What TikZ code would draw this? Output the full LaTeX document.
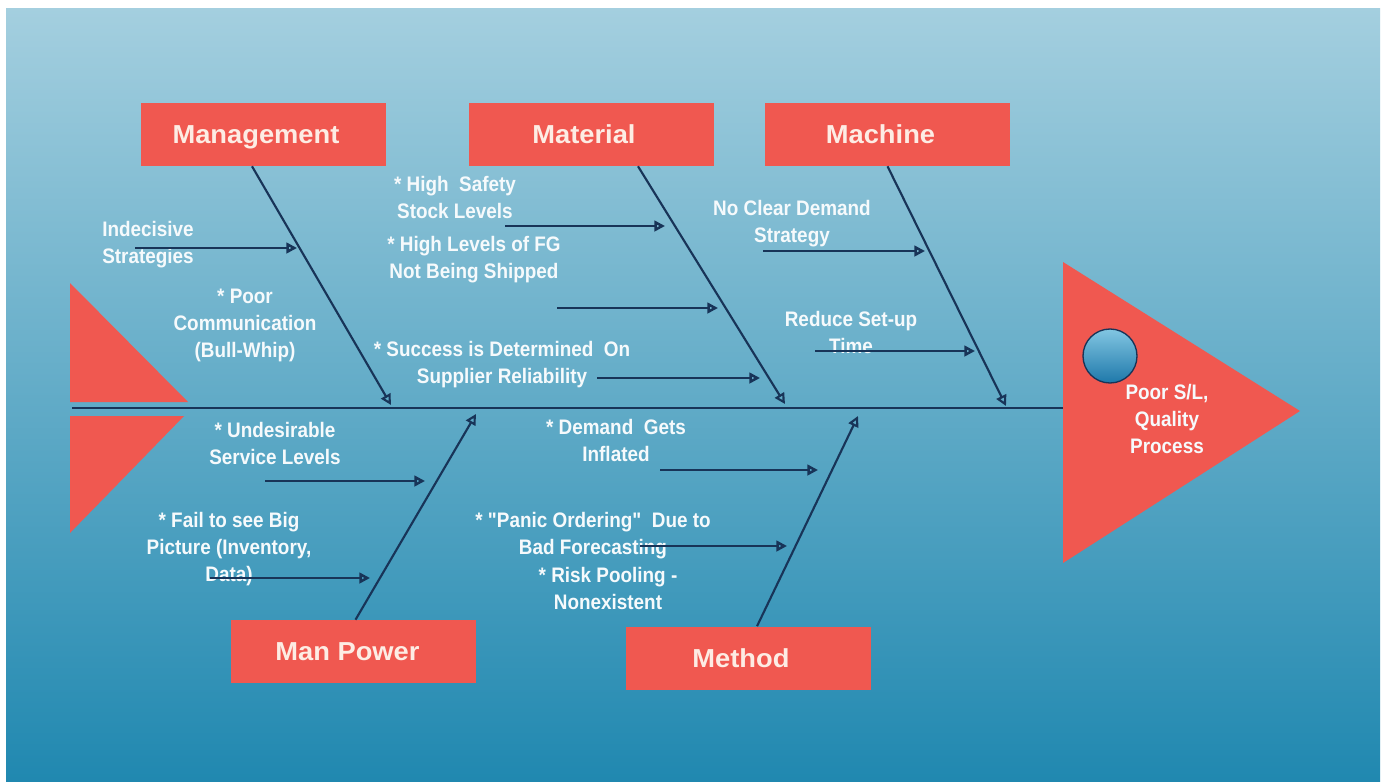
\documentclass[tikz,border=0pt]{standalone}
\usepackage{fontspec}
\setmainfont{Liberation Sans}
\newfontfamily\titlefont[FakeStretch=1.05]{Liberation Sans}
\newfontfamily\notefont[FakeStretch=0.9]{Liberation Sans}
\usetikzlibrary{arrows.meta}

\definecolor{bgtop}{RGB}{164,207,223}
\definecolor{bgbot}{RGB}{32,136,176}
\definecolor{coral}{RGB}{240,88,80}
\definecolor{navy}{RGB}{24,52,88}
\definecolor{titletxt}{RGB}{253,236,228}
\definecolor{notetxt}{RGB}{246,250,252}
\definecolor{balltop}{RGB}{130,198,226}
\definecolor{ballbot}{RGB}{30,120,170}

\begin{document}
\begin{tikzpicture}[x=0.75pt,y=-0.75pt,
  titlebox/.style={fill=coral, text=titletxt, minimum width=183.75pt,
    minimum height=47.25pt, inner sep=0pt, text height=14pt, text depth=0pt,
    font=\titlefont\bfseries\fontsize{19.5}{23}\selectfont},
  note/.style={text=notetxt, align=center, inner sep=0pt,
    font=\notefont\bfseries\fontsize{15.75}{20.25}\selectfont},
  bone/.style={draw=navy, line width=1.6pt,
    -{Triangle[open,length=8pt,width=8pt]}},
  twig/.style={draw=navy, line width=1.9pt,
    -{Triangle[open,length=8pt,width=8pt]}},
]
% page and gradient backdrop
\fill[white] (0,0) rectangle (1386,782);
\shade[top color=bgtop, bottom color=bgbot] (6,8) rectangle (1380,782);
\useasboundingbox (0,0) rectangle (1386,782);

% tail fins
\fill[coral] (70,283) -- (70,402) -- (188,402) -- cycle;
\fill[coral] (70,416) -- (184,416) -- (70,533) -- cycle;

% head
\fill[coral] (1063,262) -- (1300,411) -- (1063,563) -- cycle;
\shade[top color=balltop, bottom color=ballbot, draw=navy, line width=1pt]
  (1110,356) circle[radius=27];
\node[note] (effect) at (1167,419) {Poor S/L,\\Quality\\Process};

% spine
\coordinate (tail) at (72,408);
\coordinate (head) at (1063,408);
\draw[navy, line width=1.6pt] (tail) -- (head);

% category boxes
\node[titlebox] (mg) at (263,134.5) {Management\kern10.5pt};
\node[titlebox] (mt) at (591,134.5) {Material\kern10.5pt};
\node[titlebox] (mc) at (887.5,134.5) {Machine\kern10.5pt};
\node[titlebox] (mp) at (353.5,651.5) {Man Power\kern9pt};
\node[titlebox] (me) at (748,658) {Method\kern10.5pt};

% points where the bones meet the spine
\coordinate (jmg) at (391,405);
\coordinate (jmt) at (785,404);
\coordinate (jmc) at (1006,406);
\coordinate (jmp) at (476,414);
\coordinate (jme) at (858,416);

% bones
\draw[bone] ([xshift=-8.25pt]mg.south) -- (jmg);
\draw[bone] ([xshift=35.25pt]mt.south) -- (jmt);
\draw[bone] (mc.south) -- (jmc);
\draw[bone] ([xshift=1.5pt]mp.north) -- (jmp);
\draw[bone] ([xshift=6.75pt]me.north) -- (jme);

% causes
\node[note] (c1) at (148,245) {Indecisive\\Strategies};
\node[note] (c2) at (245,325) {* Poor\\Communication\\(Bull-Whip)};
\node[note] (c3) at (455,197) {* High \ Safety\\Stock Levels};
\node[note] (c4) at (474,260) {* High Levels of FG\\Not Being Shipped};
\node[note] (c5) at (502,365) {* Success is Determined \ On\\Supplier Reliability};
\node[note] (c6) at (792,224) {No Clear Demand\\Strategy};
\node[note] (c7) at (851,332) {Reduce Set-up\\Time};
\node[note] (c8) at (275,443) {* Undesirable\\Service Levels};
\node[note] (c9) at (229,549) {* Fail to see Big\\Picture (Inventory,\\Data)};
\node[note] (c10) at (616,440) {* Demand \ Gets\\Inflated};
\node[note] (c11) at (593,536) {* "Panic Ordering" \ Due to\\Bad Forecasting};
\node[note] (c12) at (608,588) {* Risk Pooling -\\Nonexistent};

% cause arrows: start and tip points
\coordinate (a1) at (135,248);  \coordinate (t1) at (297,248);
\coordinate (a3) at (505,226);  \coordinate (t3) at (665,226);
\coordinate (a4) at (557,308);  \coordinate (t4) at (718,308);
\coordinate (a5) at (597,378);  \coordinate (t5) at (760,378);
\coordinate (a6) at (763,251);  \coordinate (t6) at (925,251);
\coordinate (a7) at (815,351);  \coordinate (t7) at (975,351);
\coordinate (a8) at (265,481);  \coordinate (t8) at (425,481);
\coordinate (a9) at (210,578);  \coordinate (t9) at (370,578);
\coordinate (a10) at (660,470); \coordinate (t10) at (818,470);
\coordinate (a11) at (640,546); \coordinate (t11) at (787,546);

\foreach \i in {1,3,4,5,6,7,8,9,10,11}
  \draw[twig] (a\i) -- (t\i);
\end{tikzpicture}
\end{document}
